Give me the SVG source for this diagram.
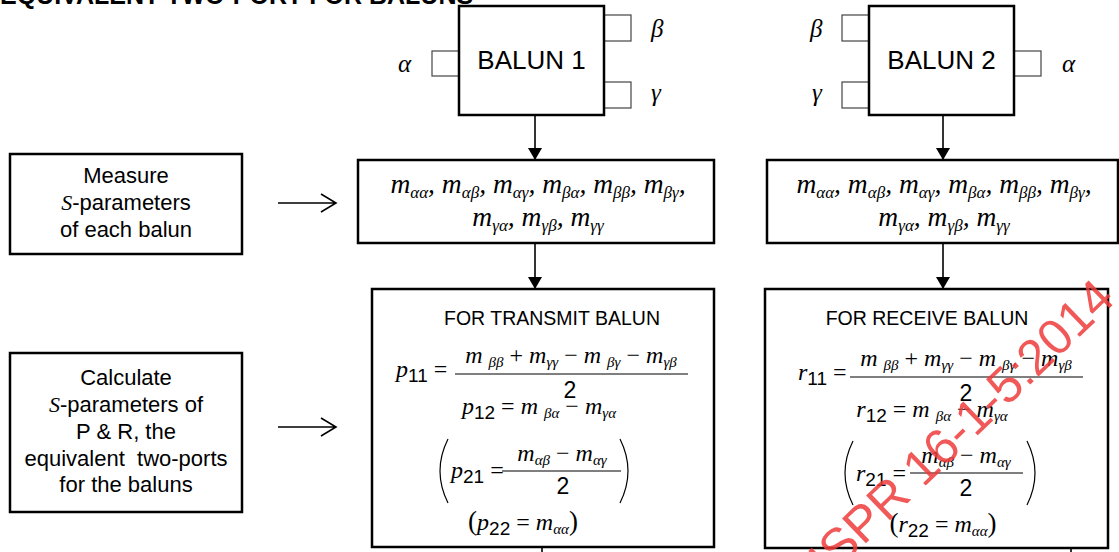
<svg xmlns="http://www.w3.org/2000/svg" width="1119" height="552" viewBox="0 0 1119 552">
<style>
.box{fill:#fff;stroke:#000;stroke-width:2.5}
.port{fill:#fff;stroke:#444;stroke-width:1.2}
.sans{font-family:"Liberation Sans",Arial,sans-serif}
.mi{font-family:"Liberation Serif","Times New Roman",serif;font-style:italic}
.up{font-family:"Liberation Serif","Times New Roman",serif;font-style:normal}
.lbl{font-family:"Liberation Sans",Arial,sans-serif;font-size:22px}
.gr{font-family:"Liberation Serif","Times New Roman",serif;font-style:italic;font-size:25px}
.mt{font-family:"Liberation Serif","Times New Roman",serif;font-style:italic;font-size:27.5px}
.s{font-size:17px}
.f{font-family:"Liberation Serif","Times New Roman",serif;font-style:italic;font-size:24px}
.fs{font-size:15px}
.d{font-family:"Liberation Sans",Arial,sans-serif;font-style:normal;font-size:19px}
.two{font-family:"Liberation Sans",Arial,sans-serif;font-size:23px}
.conn{stroke:#000;stroke-width:1.6;fill:none}
.bar{stroke:#000;stroke-width:1.1}
.paren{stroke:#000;stroke-width:1.2;fill:none}
</style>
<defs>
<marker id="ah" viewBox="0 0 12 14" refX="12" refY="7" markerWidth="12" markerHeight="14" markerUnits="userSpaceOnUse" orient="auto">
<path d="M0,0 L12,7 L0,14 Z" fill="#000"/>
</marker>
</defs>

<text id="title" class="sans" x="0" y="4" font-size="25" font-weight="bold">EQUIVALENT TWO-PORT FOR BALUNS</text>

<g id="balun1">
<rect class="port" x="432" y="51" width="27" height="25"/>
<rect class="port" x="604" y="15" width="27" height="26"/>
<rect class="port" x="604" y="82" width="27" height="26"/>
<rect class="box" x="459" y="6" width="145" height="109"/>
<text class="sans" x="531.5" y="69" font-size="26" text-anchor="middle">BALUN 1</text>
<text class="gr" x="398" y="72">α</text>
<text class="gr" x="651" y="37">β</text>
<text class="gr" x="651" y="101">γ</text>
</g>

<g id="balun2">
<rect class="port" x="842" y="15" width="27" height="26"/>
<rect class="port" x="842" y="82" width="27" height="26"/>
<rect class="port" x="1014" y="51" width="27" height="25"/>
<rect class="box" x="869" y="6" width="145" height="109"/>
<text class="sans" x="941.5" y="69" font-size="26" text-anchor="middle">BALUN 2</text>
<text class="gr" x="810" y="37">β</text>
<text class="gr" x="812" y="101">γ</text>
<text class="gr" x="1062" y="72">α</text>
</g>

<g id="measure">
<rect class="box" x="10" y="154" width="232" height="100"/>
<text class="lbl" x="126" y="183" text-anchor="middle">Measure</text>
<text class="lbl" x="126" y="210" text-anchor="middle"><tspan class="mi">S</tspan>-parameters</text>
<text class="lbl" x="126" y="237" text-anchor="middle">of each balun</text>
</g>

<g id="calculate">
<rect class="box" x="10" y="353" width="232" height="159"/>
<text class="lbl" x="126" y="385" text-anchor="middle">Calculate</text>
<text class="lbl" x="126" y="412" text-anchor="middle"><tspan class="mi">S</tspan>-parameters of</text>
<text class="lbl" x="126" y="439" text-anchor="middle">P &amp; R, the</text>
<text class="lbl" x="126" y="466" text-anchor="middle" xml:space="preserve">equivalent  two-ports</text>
<text class="lbl" x="126" y="492" text-anchor="middle">for the baluns</text>
</g>

<g id="mbox1">
<rect class="box" x="358" y="160" width="356" height="83"/>
<text class="mt" x="538" y="193" text-anchor="middle">m<tspan class="s" dy="5">αα</tspan><tspan dy="-5">, m</tspan><tspan class="s" dy="5">αβ</tspan><tspan dy="-5">, m</tspan><tspan class="s" dy="5">αγ</tspan><tspan dy="-5">, m</tspan><tspan class="s" dy="5">βα</tspan><tspan dy="-5">, m</tspan><tspan class="s" dy="5">ββ</tspan><tspan dy="-5">, m</tspan><tspan class="s" dy="5">βγ</tspan><tspan dy="-5">,</tspan></text>
<text class="mt" x="538" y="226" text-anchor="middle">m<tspan class="s" dy="5">γα</tspan><tspan dy="-5">, m</tspan><tspan class="s" dy="5">γβ</tspan><tspan dy="-5">, m</tspan><tspan class="s" dy="5">γγ</tspan></text>
</g>

<g id="mbox2">
<rect class="box" x="767" y="160" width="351" height="83"/>
<text class="mt" x="944" y="193" text-anchor="middle">m<tspan class="s" dy="5">αα</tspan><tspan dy="-5">, m</tspan><tspan class="s" dy="5">αβ</tspan><tspan dy="-5">, m</tspan><tspan class="s" dy="5">αγ</tspan><tspan dy="-5">, m</tspan><tspan class="s" dy="5">βα</tspan><tspan dy="-5">, m</tspan><tspan class="s" dy="5">ββ</tspan><tspan dy="-5">, m</tspan><tspan class="s" dy="5">βγ</tspan><tspan dy="-5">,</tspan></text>
<text class="mt" x="944" y="226" text-anchor="middle">m<tspan class="s" dy="5">γα</tspan><tspan dy="-5">, m</tspan><tspan class="s" dy="5">γβ</tspan><tspan dy="-5">, m</tspan><tspan class="s" dy="5">γγ</tspan></text>
</g>

<g id="transmit">
<rect class="box" x="372" y="289" width="342" height="258"/>
<text class="sans" x="552" y="325" font-size="19.5" text-anchor="middle">FOR TRANSMIT BALUN</text>
<text class="f" x="396" y="377">p<tspan class="d" dy="5">11</tspan><tspan class="up" dy="-5"> =</tspan></text>
<line class="bar" x1="455" y1="374" x2="688" y2="374"/>
<text class="f" x="571" y="363" text-anchor="middle">m <tspan class="fs" dy="4">ββ</tspan><tspan class="up" dy="-4"> + </tspan>m<tspan class="fs" dy="4">γγ</tspan><tspan class="up" dy="-4"> − </tspan>m <tspan class="fs" dy="4">βγ</tspan><tspan class="up" dy="-4"> − </tspan>m<tspan class="fs" dy="4">γβ</tspan></text>
<text class="two" x="570" y="398" text-anchor="middle">2</text>
<text class="f" x="539" y="414" text-anchor="middle">p<tspan class="d" dy="5">12</tspan><tspan class="up" dy="-5"> = </tspan>m <tspan class="fs" dy="4">βα</tspan><tspan class="up" dy="-4"> − </tspan>m<tspan class="fs" dy="4">γα</tspan></text>
<path class="paren" d="M448,439 Q432,471 448,503"/>
<path class="paren" d="M620,439 Q636,471 620,503"/>
<text class="f" x="451" y="478">p<tspan class="d" dy="5">21</tspan><tspan class="up" dy="-5"> =</tspan></text>
<line class="bar" x1="502" y1="471" x2="621" y2="471"/>
<text class="f" x="562" y="461" text-anchor="middle">m<tspan class="fs" dy="4">αβ</tspan><tspan class="up" dy="-4"> − </tspan>m<tspan class="fs" dy="4">αγ</tspan></text>
<text class="two" x="563" y="494" text-anchor="middle">2</text>
<text class="f" x="523" y="530" text-anchor="middle"><tspan class="up" font-size="27">(</tspan>p<tspan class="d" dy="5">22</tspan><tspan class="up" dy="-5"> = </tspan>m<tspan class="fs" dy="4">αα</tspan><tspan class="up" font-size="27" dy="-4">)</tspan></text>
</g>

<g id="receive">
<rect class="box" x="765" y="289" width="343" height="259"/>
<text class="sans" x="927" y="325" font-size="19.5" text-anchor="middle">FOR RECEIVE BALUN</text>
<text class="f" x="798" y="380">r<tspan class="d" dy="5">11</tspan><tspan class="up" dy="-5"> =</tspan></text>
<line class="bar" x1="850" y1="377" x2="1083" y2="377"/>
<text class="f" x="966" y="366" text-anchor="middle">m <tspan class="fs" dy="4">ββ</tspan><tspan class="up" dy="-4"> + </tspan>m<tspan class="fs" dy="4">γγ</tspan><tspan class="up" dy="-4"> − </tspan>m <tspan class="fs" dy="4">βγ</tspan><tspan class="up" dy="-4"> − </tspan>m<tspan class="fs" dy="4">γβ</tspan></text>
<text class="two" x="966" y="401" text-anchor="middle">2</text>
<text class="f" x="932" y="417" text-anchor="middle">r<tspan class="d" dy="5">12</tspan><tspan class="up" dy="-5"> = </tspan>m <tspan class="fs" dy="4">βα</tspan><tspan class="up" dy="-4"> − </tspan>m<tspan class="fs" dy="4">γα</tspan></text>
<path class="paren" d="M853,441 Q837,473 853,505"/>
<path class="paren" d="M1027,441 Q1043,473 1027,505"/>
<text class="f" x="856" y="481">r<tspan class="d" dy="5">21</tspan><tspan class="up" dy="-5"> =</tspan></text>
<line class="bar" x1="910" y1="473" x2="1023" y2="473"/>
<text class="f" x="966" y="463" text-anchor="middle">m<tspan class="fs" dy="4">αβ</tspan><tspan class="up" dy="-4"> − </tspan>m<tspan class="fs" dy="4">αγ</tspan></text>
<text class="two" x="966" y="496" text-anchor="middle">2</text>
<text class="f" x="943" y="532" text-anchor="middle"><tspan class="up" font-size="27">(</tspan>r<tspan class="d" dy="5">22</tspan><tspan class="up" dy="-5"> = </tspan>m<tspan class="fs" dy="4">αα</tspan><tspan class="up" font-size="27" dy="-4">)</tspan></text>
</g>

<g id="connectors">
<line class="conn" x1="535" y1="115" x2="535" y2="160" marker-end="url(#ah)"/>
<line class="conn" x1="535" y1="243" x2="535" y2="289" marker-end="url(#ah)"/>
<line class="conn" x1="943" y1="115" x2="943" y2="160" marker-end="url(#ah)"/>
<line class="conn" x1="943" y1="243" x2="943" y2="289" marker-end="url(#ah)"/>
<path class="conn" stroke-width="2" d="M278,203 H336 M321,194 L336,203 L321,212"/>
<path class="conn" stroke-width="2" d="M278,427 H336 M321,418 L336,427 L321,436"/>
<line class="conn" stroke-width="3" x1="542" y1="547" x2="542" y2="552"/>
<line class="conn" stroke-width="3" x1="1071" y1="548" x2="1071" y2="552"/>
</g>

<text id="watermark" class="sans" font-size="50" fill="#ee3b3b" fill-opacity="0.85" transform="translate(803,604) rotate(-44)">CISPR 16-1-5:2014</text>
</svg>
